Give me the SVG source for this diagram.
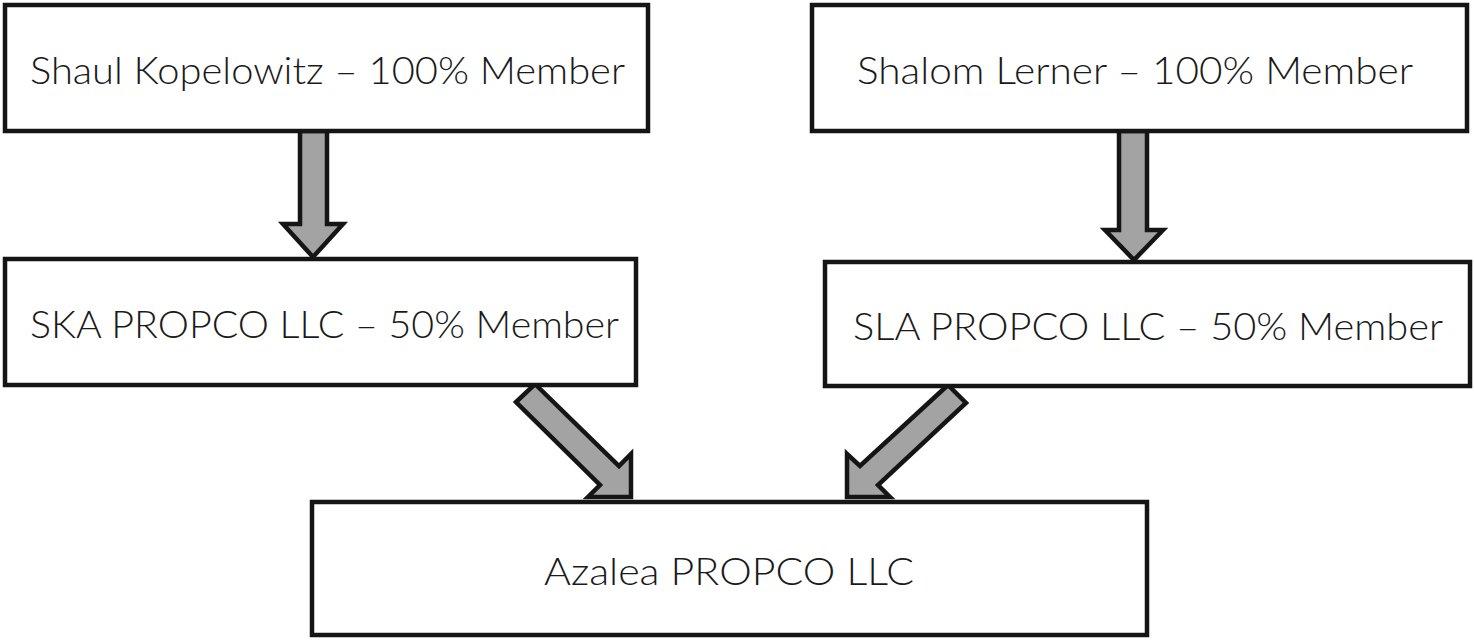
<svg xmlns="http://www.w3.org/2000/svg" width="1474" height="641" viewBox="0 0 1474 641">
<style>
.box{fill:#fff;stroke:#151515;stroke-width:4.5}
.lbl{font-family:Lato,"Liberation Sans",sans-serif;font-size:38px;font-weight:300;fill:#1a1a1a}
.arr{fill:#a3a3a3;stroke:#151515;stroke-width:4.5;stroke-linejoin:miter}
</style>
<rect width="1474" height="641" fill="#fff"/>
<g id="connectors">
<polygon class="arr" points="300,131 327,131 327,224 343,224 313,257 283,224 300,224"/>
<polygon class="arr" points="1119,131 1147,131 1147,230 1163,230 1134,260 1105,230 1119,230"/>
<polygon class="arr" points="535,384 619,466 631,454 631,497 588,497 600,485 516,402"/>
<polygon class="arr" points="948,385 860,466 847,454 847,497 890,497 878,485 966,403"/>
</g>
<g id="n1"><rect class="box" x="5" y="5" width="643" height="126"/><text class="lbl" x="30" y="84" textLength="595" lengthAdjust="spacingAndGlyphs">Shaul Kopelowitz – 100% Member</text></g>
<g id="n2"><rect class="box" x="812" y="5" width="655" height="126"/><text class="lbl" x="857" y="84" textLength="556" lengthAdjust="spacingAndGlyphs">Shalom Lerner – 100% Member</text></g>
<g id="n3"><rect class="box" x="5" y="259" width="631" height="126"/><text class="lbl" x="30" y="338" textLength="589" lengthAdjust="spacingAndGlyphs">SKA PROPCO LLC – 50% Member</text></g>
<g id="n4"><rect class="box" x="825" y="262" width="645" height="124"/><text class="lbl" x="853" y="340" textLength="590" lengthAdjust="spacingAndGlyphs">SLA PROPCO LLC – 50% Member</text></g>
<g id="n5"><rect class="box" x="312" y="502" width="835" height="133"/><text class="lbl" x="544" y="585" textLength="370" lengthAdjust="spacingAndGlyphs">Azalea PROPCO LLC</text></g>
</svg>
